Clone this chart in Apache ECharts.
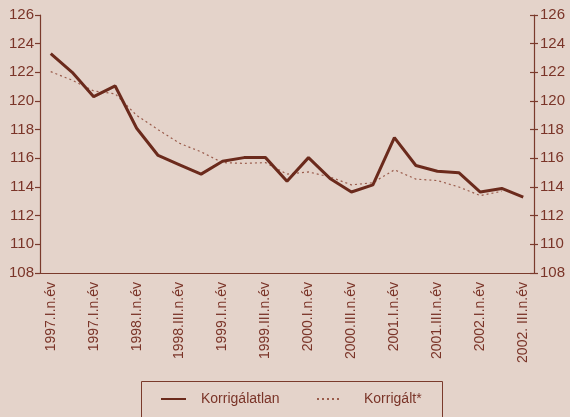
<!DOCTYPE html>
<html>
<head>
<meta charset="utf-8">
<script src="https://cdn.jsdelivr.net/npm/echarts@6/dist/echarts.min.js"></script>
<style>
html, body { margin: 0; padding: 0; background: #e4d3ca; }
#chart { width: 570px; height: 417px; }
</style>
</head>
<body>
<div id="chart"></div>
<script>
// negyedévek 1997 I - 2002 III
const quarters = [
    '1997.I', '1997.II', '1997.III', '1997.IV',
    '1998.I', '1998.II', '1998.III', '1998.IV',
    '1999.I', '1999.II', '1999.III', '1999.IV',
    '2000.I', '2000.II', '2000.III', '2000.IV',
    '2001.I', '2001.II', '2001.III', '2001.IV',
    '2002.I', '2002.II', '2002.III'
];
// feliratok minden második negyedévnél (ahogy az eredetin)
const tickLabels = [
    '1997.I.n.év', '1997.I.n.év', '1998.I.n.év', '1998.III.n.év',
    '1999.I.n.év', '1999.III.n.év', '2000.I.n.év', '2000.III.n.év',
    '2001.I.n.év', '2001.III.n.év', '2002.I.n.év', '2002. III.n.év'
];
const korrigalatlan = [
    123.3, 122.0, 120.3, 121.05, 118.1, 116.2, 115.55, 114.9,
    115.8, 116.05, 116.05, 114.4, 116.05, 114.6, 113.65, 114.15,
    117.45, 115.5, 115.1, 115.0, 113.65, 113.9, 113.3
];
const korrigalt = [
    122.05, 121.45, 120.7, 120.5, 119.0, 118.0, 117.05, 116.45,
    115.7, 115.65, 115.7, 114.9, 115.05, 114.7, 114.15, 114.3,
    115.2, 114.55, 114.45, 114.0, 113.4, 113.7, null
];

const brown = '#6b2a1c';
const axisColor = '#7a3a2c';
const textColor = '#7a3428';
const font = '"Liberation Sans", Arial, sans-serif';

var chart = echarts.init(document.getElementById('chart'));

const yAxisBase = {
    type: 'value',
    min: 108,
    max: 126,
    interval: 2,
    splitLine: { show: false },
    axisLine: { show: true, lineStyle: { color: axisColor, width: 1.2 } },
    axisTick: { show: true, length: 5, lineStyle: { color: axisColor, width: 1.2 } },
    axisLabel: { color: textColor, fontFamily: font, fontSize: 15, margin: 6 }
};

const legendBase = {
    top: 387,
    itemWidth: 25,
    itemHeight: 10,
    itemStyle: { opacity: 0 },
    textStyle: { color: textColor, fontFamily: font, fontSize: 14 }
};

var option = {
    backgroundColor: '#e4d3ca',
    animation: false,
    grid: { left: 40, right: 36, top: 15, bottom: 144 },
    legend: [
        Object.assign({}, legendBase, {
            left: 155,
            data: ['Korrigálatlan'],
            textStyle: Object.assign({}, legendBase.textStyle, { padding: [0, 0, 0, 10] })
        }),
        Object.assign({}, legendBase, {
            left: 311,
            data: ['Korrigált*'],
            textStyle: Object.assign({}, legendBase.textStyle, { padding: [0, 0, 0, 17] })
        })
    ],
    graphic: [{
        type: 'rect',
        shape: { x: 141.5, y: 381.5, width: 301, height: 50 },
        style: { fill: 'none', stroke: axisColor, lineWidth: 1 }
    }],
    xAxis: {
        type: 'category',
        data: quarters,
        boundaryGap: true,
        axisLine: { lineStyle: { color: axisColor, width: 1.2 } },
        axisTick: { interval: 0, length: 5, lineStyle: { color: axisColor, width: 1.2 } },
        axisLabel: {
            interval: 0,
            rotate: 90,
            margin: 9,
            color: textColor,
            fontFamily: font,
            fontSize: 14,
            formatter: function (value, index) {
                return index % 2 === 0 ? tickLabels[index / 2] : '';
            }
        }
    },
    yAxis: [
        Object.assign({}, yAxisBase, { position: 'left' }),
        Object.assign({}, yAxisBase, { position: 'right', axisTick: Object.assign({}, yAxisBase.axisTick, { length: 4 }) }),
        // a jobb oldali tengely befelé mutató osztásai
        Object.assign({}, yAxisBase, {
            position: 'right',
            axisLine: { show: false },
            axisLabel: { show: false },
            axisTick: { show: true, inside: true, length: 4, lineStyle: { color: axisColor, width: 1.2 } }
        })
    ],
    series: [
        {
            name: 'Korrigálatlan',
            type: 'line',
            data: korrigalatlan,
            symbol: 'none',
            lineStyle: { color: brown, width: 3 },
            itemStyle: { color: brown },
            z: 3
        },
        {
            name: 'Korrigált*',
            type: 'line',
            data: korrigalt,
            symbol: 'none',
            lineStyle: { color: '#9a5c4c', width: 1.2, type: [2, 3] },
            itemStyle: { color: '#9a5c4c' },
            z: 2
        }
    ]
};

chart.setOption(option);
</script>
</body>
</html>
